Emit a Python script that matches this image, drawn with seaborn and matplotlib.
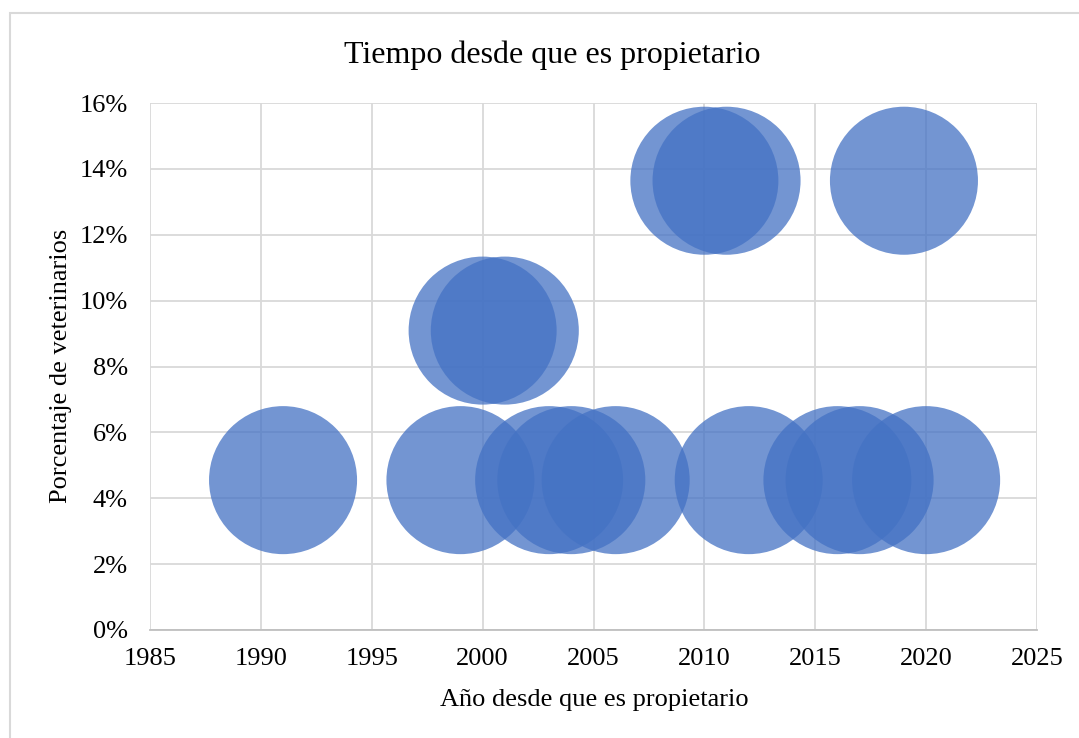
import matplotlib
matplotlib.use("Agg")
import matplotlib.pyplot as plt
import seaborn as sns
import pandas as pd
from matplotlib.patches import Rectangle
from matplotlib.ticker import FuncFormatter, MultipleLocator

# data (share of 22 vets per starting year)
years = [1991, 1999, 2003, 2004, 2006, 2012, 2016, 2017, 2020,
         2000, 2001,
         2010, 2011, 2019]
percent = [4.55, 4.55, 4.55, 4.55, 4.55, 4.55, 4.55, 4.55, 4.55,
           9.09, 9.09,
           13.64, 13.64, 13.64]

title = "Tiempo desde que es propietario"
x_label = "Año desde que es propietario"
y_label = "Porcentaje de veterinarios"

df = pd.DataFrame({"year": years, "pct": percent})

sns.set_style("white")
plt.rcParams["font.family"] = ["Liberation Serif", "DejaVu Serif"]
plt.rcParams["text.color"] = "black"

W, H = 1079, 738
fig = plt.figure(figsize=(W / 100, H / 100), dpi=100)
ax = fig.add_axes([150 / W, 1 - 630 / H, (1037 - 150) / W, (630 - 103) / H])

sns.scatterplot(data=df, x="year", y="pct", ax=ax, s=11360, color="#4472C4",
                alpha=0.75, edgecolor="none", linewidth=0, legend=False)

ax.set_xlim(1985, 2025)
ax.set_ylim(0, 16)
ax.xaxis.set_major_locator(MultipleLocator(5))
ax.yaxis.set_major_locator(MultipleLocator(2))
ax.yaxis.set_major_formatter(FuncFormatter(lambda v, p: f"{v:.0f}%"))
ax.grid(True, color="#d9d9d9", linewidth=1.3)
ax.set_axisbelow(True)
ax.tick_params(axis="both", length=0, labelsize=19, colors="black")
ax.tick_params(axis="y", pad=16)
ax.tick_params(axis="x", pad=13)
for side in ["top", "right", "left"]:
    ax.spines[side].set_visible(False)
ax.spines["bottom"].set_color("#bfbfbf")
ax.spines["bottom"].set_linewidth(1.3)

ax.set_xlabel("")
ax.set_ylabel("")
fig.text(594 / W, 1 - 700 / H, x_label, ha="center", va="center",
         fontsize=19, color="black")
fig.text(61 / W, 1 - 366 / H, y_label, ha="center", va="center",
         fontsize=19, rotation=90, color="black")
fig.text(552 / W, 1 - 55 / H, title, ha="center", va="center",
         fontsize=23, color="black")

# chart area border (only top and left visible in the crop)
fig.add_artist(Rectangle((10 / W, -0.1), 1.2, 1 - 13 / H + 0.1,
                         transform=fig.transFigure, fill=False,
                         edgecolor="#d9d9d9", linewidth=1.5))

fig.savefig("out.png", dpi=100)
